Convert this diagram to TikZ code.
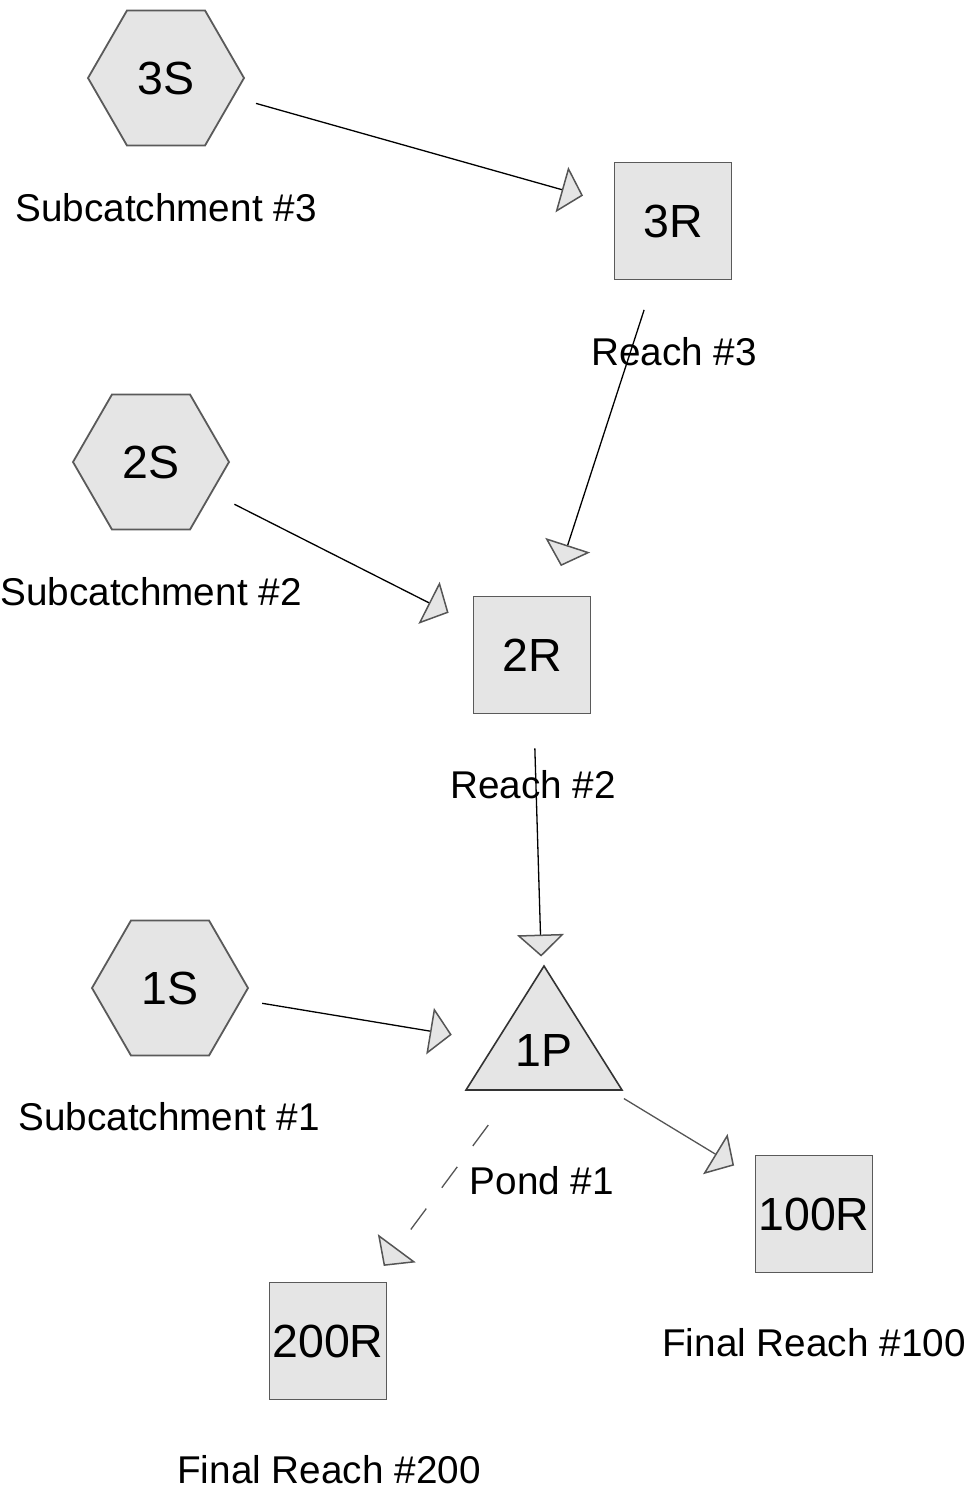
\documentclass[tikz,border=0pt]{standalone}
\usepackage{fontspec}
\setmainfont{Liberation Sans}
\usetikzlibrary{shapes.geometric,arrows.meta,calc}
\definecolor{nodefill}{HTML}{E5E5E5}
\definecolor{nodeborder}{HTML}{5A5A5A}
\definecolor{tipborder}{HTML}{555555}
\definecolor{dashc}{HTML}{555555}
\begin{document}
\begin{tikzpicture}[x=1pt,y=-1pt,
  hexnode/.style={regular polygon, regular polygon sides=6, minimum size=156pt, inner sep=0pt,
    fill=nodefill, draw=nodeborder, line width=1.8pt, font=\fontsize{46.5}{46.5}\selectfont},
  sqnode/.style={rectangle, minimum size=117pt, inner sep=0pt,
    fill=nodefill, draw=nodeborder, line width=1.8pt, font=\fontsize{46.5}{46.5}\selectfont},
  pondtri/.style={fill=nodefill, draw=black!80, line width=1.6pt, line join=miter},
  pondtext/.style={inner sep=0pt, font=\fontsize{46.5}{46.5}\selectfont},
  lbl/.style={anchor=base, inner sep=0pt, font=\fontsize{38.7}{38.7}\selectfont},
  flow/.style={line width=1.3pt, shorten <=93.5pt, shorten >=93.5pt,
    -{Triangle[length=22pt,width=47pt,fill=nodefill,color=tipborder,line width=1.5pt]}},
  grayflow/.style={flow, draw=tipborder},
  dashflow/.style={flow, draw=dashc, dash pattern=on 26pt off 26pt}
]
\useasboundingbox (0,0) rectangle (973,1494);

% nodes
\node[hexnode] (3S) at (166,78) {3S};
\node[hexnode] (2S) at (151,462) {2S};
\node[hexnode] (1S) at (170,988) {1S};
\node[sqnode] (3R) at (673,221) {3R};
\node[sqnode] (2R) at (532,655) {2R};
\node[sqnode] (100R) at (814,1214) {100R};
\node[sqnode] (200R) at (328,1341) {200R};
\draw[pondtri] (544,966) -- (622,1090) -- (466,1090) -- cycle;
\node[pondtext] (1P) at (544,1050) {1P};

% labels
\node[lbl] (l3S) at (166,221) {Subcatchment \#3};
\node[lbl] (l2S) at (151,605) {Subcatchment \#2};
\node[lbl] (l1S) at (169,1130) {Subcatchment \#1};
\node[lbl] (l3R) at (674,365) {Reach \#3};
\node[lbl] (l2R) at (533,798) {Reach \#2};
\node[lbl] (l1P) at (542,1194) {Pond \#1};
\node[lbl] (l100R) at (814,1356) {Final Reach \#100};
\node[lbl] (l200R) at (329,1483) {Final Reach \#200};

% connectors
\draw[flow] (3S.center) -- (3R.center);
\draw[flow] (3R.center) -- (2R.center);
\draw[flow] (2S.center) -- (2R.center);
\draw[flow] (2R.center) -- (1P.center);
\draw[flow] (1S.center) -- (1P.center);
\draw[grayflow] (1P.center) -- (100R.center);
\draw[dashflow] (1P.center) -- (200R.center);
\end{tikzpicture}
\end{document}
